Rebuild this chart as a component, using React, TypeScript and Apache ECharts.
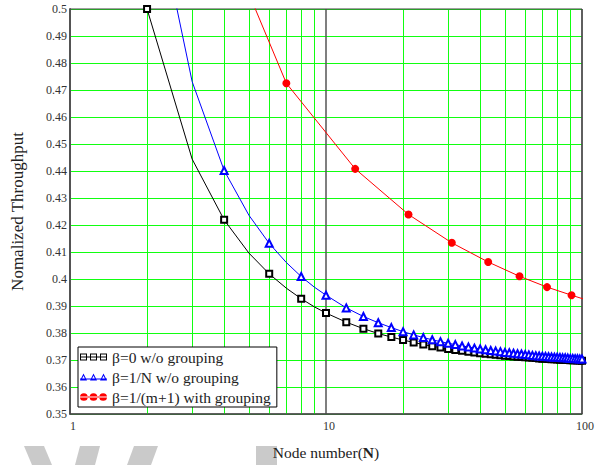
import React, { useEffect, useRef } from "react";
import * as echarts from "echarts";

// Node numbers N (integers up to 10, then even values)
const nodes = [2, 3, 4, 5, 6, 7, 8, 9, 10, 12, 14, 16, 18, 20, 22, 24, 26, 28, 30, 32, 34, 36, 38, 40, 42, 44, 46, 48, 50, 52, 54, 56, 58, 60, 62, 64, 66, 68, 70, 72, 74, 76, 78, 80, 82, 84, 86, 88, 90, 92, 94, 96, 98, 100];

// beta = 0 without grouping
const beta0 = [0.5, 0.4444, 0.4219, 0.4096, 0.4019, 0.3966, 0.3927, 0.3897, 0.3874, 0.384, 0.3816, 0.3798, 0.3785, 0.3774, 0.3765, 0.3757, 0.3751, 0.3746, 0.3741, 0.3737, 0.3734, 0.3731, 0.3728, 0.3725, 0.3723, 0.3721, 0.3719, 0.3718, 0.3716, 0.3715, 0.3713, 0.3712, 0.3711, 0.371, 0.3709, 0.3708, 0.3707, 0.3706, 0.3705, 0.3705, 0.3704, 0.3703, 0.3703, 0.3702, 0.3701, 0.3701, 0.37, 0.37, 0.3699, 0.3699, 0.3699, 0.3698, 0.3698, 0.3697];

// beta = 1/N without grouping
const betaN = [0.553, 0.4731, 0.4402, 0.4236, 0.4132, 0.4061, 0.4009, 0.397, 0.394, 0.3893, 0.3861, 0.3838, 0.382, 0.3805, 0.3793, 0.3783, 0.3775, 0.3768, 0.3762, 0.3757, 0.3752, 0.3748, 0.3744, 0.3741, 0.3738, 0.3735, 0.3733, 0.3731, 0.3728, 0.3727, 0.3725, 0.3723, 0.3722, 0.372, 0.3719, 0.3717, 0.3716, 0.3715, 0.3714, 0.3713, 0.3712, 0.3711, 0.371, 0.371, 0.3709, 0.3708, 0.3708, 0.3707, 0.3706, 0.3706, 0.3705, 0.3705, 0.3704, 0.3704];

// beta = 1/(m+1) with grouping
const groupNodes = [3, 7, 13, 21, 31, 43, 57, 73, 91, 111];
const groupValues = [0.556, 0.4725, 0.4408, 0.4239, 0.4134, 0.4063, 0.401, 0.397, 0.394, 0.3914];

const minorGridX = [2, 3, 4, 5, 6, 7, 8, 9, 20, 30, 40, 50, 60, 70, 80, 90];

const seriesNames = ["β=0 w/o grouping", "β=1/N w/o grouping", "β=1/(m+1) with grouping"];

const FONT = "Liberation Serif";
const GREEN = "#11ff11";

const iconSquares =
  "path://M0 0h7v7h-7z M1 1v5h5v-5z M10 0h7v7h-7z M11 1v5h5v-5z M20 0h7v7h-7z M21 1v5h5v-5z M0 3h27v1h-27z";
const iconTriangles =
  "path://M3.5 0L7 7L0 7z M3.5 2.2L1.7 6L5.3 6z M13.5 0L17 7L10 7z M13.5 2.2L11.7 6L15.3 6z M23.5 0L27 7L20 7z M23.5 2.2L21.7 6L25.3 6z M0 5h27v1h-27z";
const iconCircles =
  "path://M0 4a4 4 0 1 0 8 0a4 4 0 1 0 -8 0z M10 4a4 4 0 1 0 8 0a4 4 0 1 0 -8 0z M20 4a4 4 0 1 0 8 0a4 4 0 1 0 -8 0z M0 3.5h28v1h-28z";

export default function App() {
  const ref = useRef<HTMLDivElement>(null);

  useEffect(() => {
    if (!ref.current) return;
    const chart = echarts.init(ref.current, null, { renderer: "svg" });

    const option: any = {
      animation: false,
      backgroundColor: "#fff",
      textStyle: { fontFamily: FONT },
      grid: {
        left: 70,
        top: 9,
        width: 512,
        height: 406,
        show: true,
        borderColor: "#404040",
        borderWidth: 1,
        backgroundColor: "transparent",
        z: 3,
      },
      xAxis: {
        type: "log",
        logBase: 10,
        min: 1,
        max: 100,
        name: "{a|Node number(}{b|N}{a|)}",
        nameLocation: "middle",
        nameGap: 30,
        nameTextStyle: {
          rich: {
            a: { fontFamily: FONT, fontSize: 15.5, color: "#222" },
            b: { fontFamily: FONT, fontSize: 15.5, fontWeight: "bold", color: "#222" },
          },
        },
        axisLine: { show: true, lineStyle: { color: "#555", width: 1.5 } },
        axisTick: { show: false },
        axisLabel: {
          fontFamily: FONT,
          fontSize: 12,
          color: "#333",
          margin: 6,
          padding: [0, 0, 0, 6],
        },
        splitLine: { show: true, lineStyle: { color: "#555", width: 1.5 } },
      },
      yAxis: {
        type: "value",
        min: 0.35,
        max: 0.5,
        interval: 0.01,
        name: "Nomalized Throughput",
        nameLocation: "middle",
        nameGap: 44,
        nameTextStyle: { fontFamily: FONT, fontSize: 17, color: "#222" },
        axisLine: { show: true, lineStyle: { color: "#666", width: 2 } },
        axisTick: { show: false },
        axisLabel: {
          fontFamily: FONT,
          fontSize: 12,
          color: "#333",
          margin: 3,
          formatter: (v: number) => String(Math.round(v * 100) / 100),
        },
        splitLine: { show: true, lineStyle: { color: GREEN, width: 1 } },
      },
      legend: {
        orient: "vertical",
        left: 78,
        top: 347,
        itemWidth: 27,
        itemHeight: 8,
        itemGap: 4,
        padding: [2, 6, 2, 2],
        borderColor: "#000",
        borderWidth: 1,
        borderRadius: 0,
        backgroundColor: "#fff",
        selectedMode: false,
        textStyle: { fontFamily: FONT, fontSize: 15.5, color: "#222", lineHeight: 16 },
        data: [
          { name: seriesNames[0], icon: iconSquares, itemStyle: { color: "#000", borderWidth: 0 } },
          { name: seriesNames[1], icon: iconTriangles, itemStyle: { color: "#0000ff", borderWidth: 0 } },
          { name: seriesNames[2], icon: iconCircles, itemStyle: { color: "#ff0000", borderWidth: 0 } },
        ],
      },
      graphic: [
        { type: "polygon", z: -1, silent: true, shape: { points: [[24, 446], [44, 446], [52, 465], [32, 465]] }, style: { fill: "#cacaca" } },
        { type: "polygon", z: -1, silent: true, shape: { points: [[80, 446], [100, 446], [95, 465], [75, 465]] }, style: { fill: "#cacaca" } },
        { type: "polygon", z: -1, silent: true, shape: { points: [[134, 446], [158, 446], [151, 465], [127, 465]] }, style: { fill: "#cacaca" } },
        { type: "rect", z: -1, silent: true, shape: { x: 256, y: 446, width: 21, height: 19 }, style: { fill: "#cacaca" } },
      ],
      series: [
        {
          type: "line",
          name: "gridMinor",
          data: [],
          silent: true,
          markLine: {
            z: 1,
            silent: true,
            symbol: ["none", "none"],
            label: { show: false },
            lineStyle: { color: GREEN, type: "solid", width: 1 },
            emphasis: { disabled: true },
            data: minorGridX.map((x) => ({ xAxis: x })),
          },
        },
        {
          type: "line",
          name: seriesNames[0],
          clip: true,
          symbolSize: 6,
          data: nodes.map((n, i) => ({
            value: [n, beta0[i]],
            symbol: n % 2 === 0 ? "emptyRect" : "none",
          })),
          lineStyle: { color: "#000", width: 1 },
          itemStyle: { color: "#000", borderWidth: 1 },
          z: 3,
        },
        {
          type: "line",
          name: seriesNames[1],
          clip: true,
          symbolSize: 7,
          data: nodes.map((n, i) => ({
            value: [n, betaN[i]],
            symbol: n % 2 === 0 ? "emptyTriangle" : "none",
          })),
          lineStyle: { color: "#0000ff", width: 1 },
          itemStyle: { color: "#0000ff", borderWidth: 1 },
          z: 3,
        },
        {
          type: "line",
          name: seriesNames[2],
          clip: true,
          symbol: "circle",
          symbolSize: 8,
          data: groupNodes.map((n, i) => [n, groupValues[i]]),
          lineStyle: { color: "#ff0000", width: 1 },
          itemStyle: { color: "#ff0000" },
          z: 3,
        },
      ],
    };

    chart.setOption(option);
    return () => chart.dispose();
  }, []);

  return (
    <div
      ref={ref}
      style={{ position: "fixed", left: 0, top: 0, width: 600, height: 465, background: "#fff" }}
    />
  );
}
